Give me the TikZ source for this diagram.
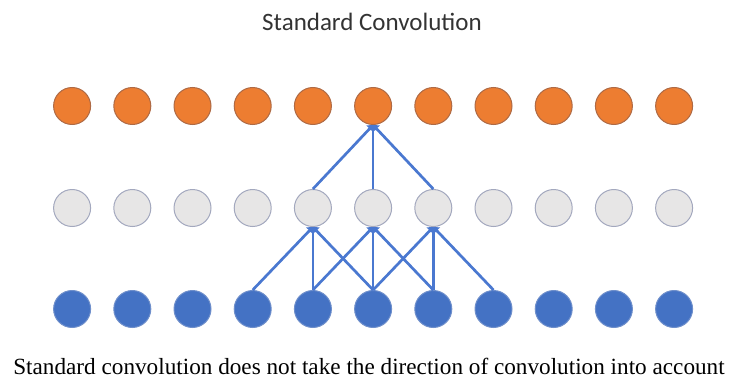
\documentclass[tikz,border=0pt]{standalone}
\usepackage{fontspec}
\setmainfont{Liberation Serif}
\newfontfamily\titlefont{Carlito}
\usetikzlibrary{arrows.meta}
\definecolor{orangeF}{HTML}{ED7D31}
\definecolor{orangeD}{HTML}{AE6A45}
\definecolor{grayF}{HTML}{E7E6E6}
\definecolor{grayD}{HTML}{A3A8BE}
\definecolor{blueF}{HTML}{4472C4}
\definecolor{blueD}{HTML}{6F8FCB}
\definecolor{lineC}{HTML}{4A78D0}
\begin{document}
\begin{tikzpicture}[x=1pt,y=-1pt,
  cell/.style={circle,minimum size=37pt,inner sep=0pt,line width=1pt},
  outc/.style={cell,fill=orangeF,draw=orangeD},
  midc/.style={cell,fill=grayF,draw=grayD},
  inc/.style={cell,fill=blueF,draw=blueD},
  conn/.style={draw=lineC,line width=2.7pt,-{Triangle[width=9pt,length=5pt]}}]
\useasboundingbox (0,0) rectangle (738,380);
\node[font=\titlefont\fontsize{25}{28}\selectfont,text=black!80] (title) at (372,22) {Standard Convolution};
\foreach \i in {0,...,10}{
  \node[outc] (t\i) at ({72.1+60.2*\i},106) {};
  \node[midc] (m\i) at ({72.1+60.2*\i},208) {};
  \node[inc]  (b\i) at ({72.1+60.2*\i},309) {};
}
\foreach \s/\d in {3/4,4/4,5/4,4/5,5/5,6/5,5/6,6/6,7/6}{
  \draw[conn] (b\s.north) -- (m\d.south);
}
\foreach \s in {4,5,6}{
  \draw[conn] (m\s.north) -- (t5.south);
}
\node[font=\fontsize{23.2}{26}\selectfont] (cap) at (369,366) {Standard convolution does not take the direction of convolution into account};
\end{tikzpicture}
\end{document}
